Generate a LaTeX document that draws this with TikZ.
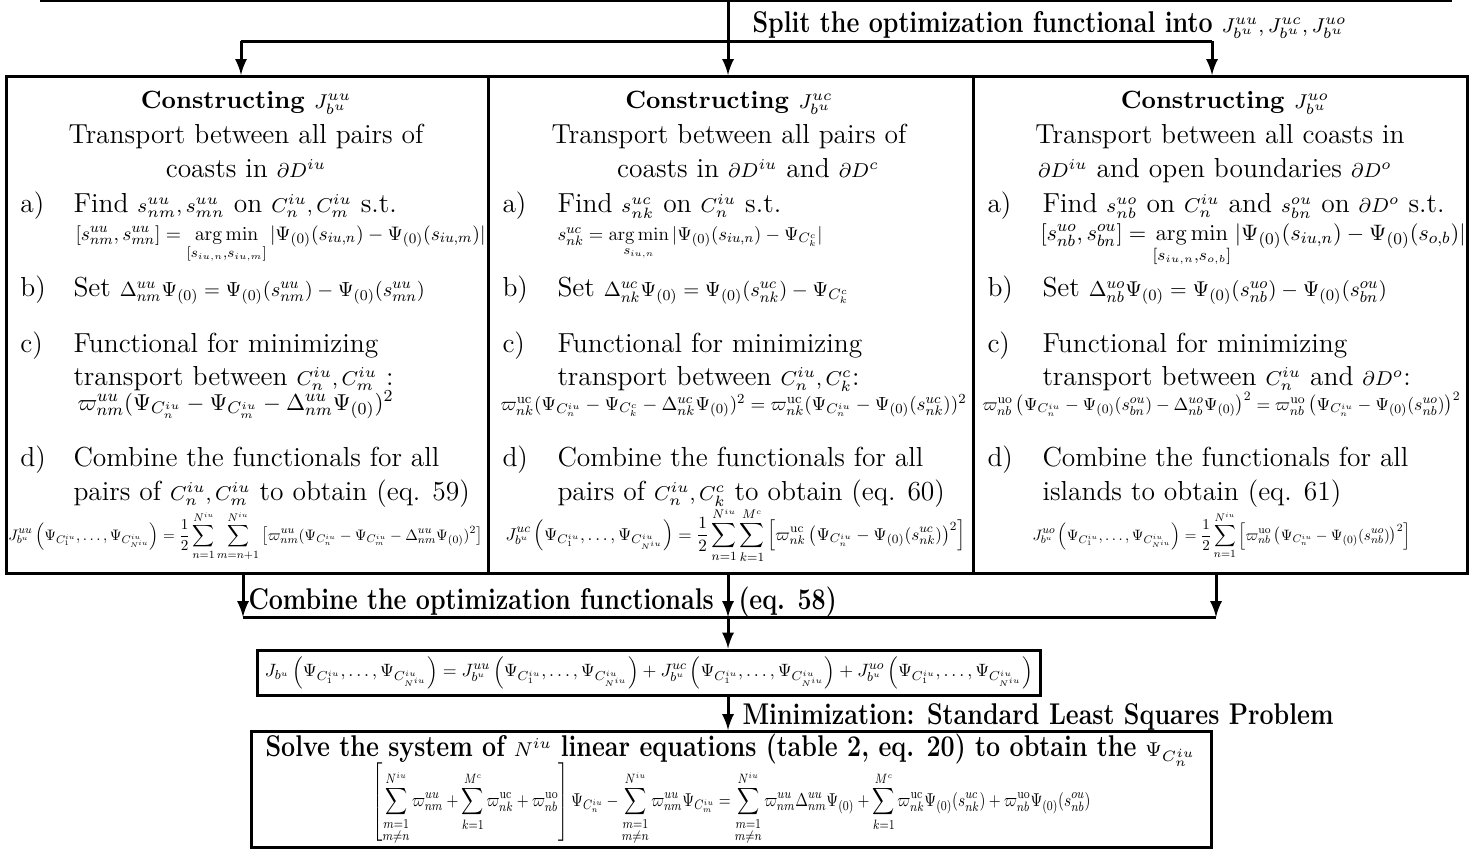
\documentclass[tikz,border=0pt]{standalone}
\usepackage{amsmath,amssymb}
\usepackage{graphicx}
\usepackage{tikz}
\usetikzlibrary{arrows, positioning, calc}

\newlength{\pxu}\setlength{\pxu}{0.4pt}
\newcommand{\fitw}[2]{\resizebox{#1\pxu}{!}{#2}}
\newcommand{\cond}[1]{\scalebox{0.835}[1]{\fontsize{12}{14}\selectfont\bfseries #1}}
\newcommand{\sm}[1]{{\fontsize{8.5}{10}\selectfont$#1$}}
\newcommand{\Pz}{\Psi_{(0)}}
\newcommand{\PC}[1]{\Psi_{C^{iu}_{#1}}}
\newcommand{\Jargs}{\left(\PC{1},\dots,\PC{N^{iu}}\right)}
\newcommand{\amin}{\mathop{\mathrm{arg\,min}}\limits}

\begin{document}
\begin{tikzpicture}[x=0.4pt, y=-0.4pt, >=latex, font=\fontsize{11}{13.6}\selectfont]
    % Styles
    \tikzstyle{panel} = [draw, line width=1.2pt, inner sep=0pt, anchor=north west]
    \tikzstyle{txt} = [anchor=base west, inner sep=0pt]
    \tikzstyle{mid} = [anchor=base, inner sep=0pt]
    \tikzstyle{head} = [anchor=base, inner sep=0pt, font=\fontsize{10}{12}\selectfont\bfseries]
    \tikzstyle{tag} = [anchor=base west, inner sep=0pt]
    \tikzstyle{line} = [draw, -latex, line width=1.2pt]
    \tikzstyle{bar} = [draw, line width=1.2pt]

    \useasboundingbox (0,0) rectangle (1470,848);

    % Panels
    \node [panel, minimum width=192.8pt, minimum height=198.8pt] (uu) at (5,75) {};
    \node [panel, minimum width=194pt, minimum height=198.8pt] (uc) at (487,75) {};
    \node [panel, minimum width=197.6pt, minimum height=198.8pt] (uo) at (972,75) {};
    \node [panel, anchor=center, minimum width=312.8pt, minimum height=18pt] (sum) at (649,672.5)
        {\fitw{768}{$\displaystyle J_{b^u}\Jargs = J^{uu}_{b^u}\Jargs + J^{uc}_{b^u}\Jargs + J^{uo}_{b^u}\Jargs$}};
    \node [panel, minimum width=384pt, minimum height=46.4pt] (solve) at (250,730) {};

    % Left panel: J^uu
    \node [head] (uu-t1) at (246,108) {Constructing \sm{J^{uu}_{b^u}}};
    \node [mid] (uu-t2) at (246,143) {Transport between all pairs of};
    \node [mid] (uu-t3) at (246,177) {coasts in \sm{\partial D^{iu}}};
    \node [txt] (uu-a) at (20,212) {a)};
    \node [txt] (uu-a1) at (73,212) {Find \sm{s^{uu}_{nm}, s^{uu}_{mn}} on \sm{C^{iu}_n, C^{iu}_m} s.t.};
    \node [txt] (uu-a2) at (75,240) {\fitw{410}{$[s^{uu}_{nm},s^{uu}_{mn}] = \amin_{[s_{iu,n},s_{iu,m}]} |\Pz(s_{iu,n}) - \Pz(s_{iu,m})|$}};
    \node [txt] (uu-b) at (20,296) {b)};
    \node [txt] (uu-b1) at (73,296) {Set \fitw{305}{$\Delta^{uu}_{nm}\Pz = \Pz(s^{uu}_{nm}) - \Pz(s^{uu}_{mn})$}};
    \node [txt] (uu-c) at (20,352) {c)};
    \node [txt] (uu-c1) at (73,352) {Functional for minimizing};
    \node [txt] (uu-c2) at (73,385) {transport between \sm{C^{iu}_n, C^{iu}_m} :};
    \node [txt] (uu-c3) at (77,410) {\fitw{316}{$\varpi^{uu}_{nm}(\PC{n} - \PC{m} - \Delta^{uu}_{nm}\Pz)^2$}};
    \node [txt] (uu-d) at (20,466) {d)};
    \node [txt] (uu-d1) at (73,466) {Combine the functionals for all};
    \node [txt] (uu-d2) at (73,500) {pairs of \sm{C^{iu}_n, C^{iu}_m} to obtain (eq. 59)};
    \node [txt] (uu-d3) at (8,540) {\fitw{474}{$\displaystyle J^{uu}_{b^u}\Jargs = \frac{1}{2}\sum_{n=1}^{N^{iu}}\sum_{m=n+1}^{N^{iu}}\left[\varpi^{uu}_{nm}(\PC{n} - \PC{m} - \Delta^{uu}_{nm}\Pz)^2\right]$}};

    % Middle panel: J^uc
    \node [head] (uc-t1) at (729,108) {Constructing \sm{J^{uc}_{b^u}}};
    \node [mid] (uc-t2) at (729,143) {Transport between all pairs of};
    \node [mid] (uc-t3) at (748,177) {coasts in \sm{\partial D^{iu}} and \sm{\partial D^{c}}};
    \node [txt] (uc-a) at (502,212) {a)};
    \node [txt] (uc-a1) at (557,212) {Find \sm{s^{uc}_{nk}} on \sm{C^{iu}_n} s.t.};
    \node [txt] (uc-a2) at (557,240) {\fitw{265}{$s^{uc}_{nk} = \amin_{s_{iu,n}} |\Pz(s_{iu,n}) - \Psi_{C^{c}_{k}}|$}};
    \node [txt] (uc-b) at (502,296) {b)};
    \node [txt] (uc-b1) at (557,296) {Set \fitw{245}{$\Delta^{uc}_{nk}\Pz = \Pz(s^{uc}_{nk}) - \Psi_{C^{c}_{k}}$}};
    \node [txt] (uc-c) at (502,352) {c)};
    \node [txt] (uc-c1) at (557,352) {Functional for minimizing};
    \node [txt] (uc-c2) at (557,385) {transport between \sm{C^{iu}_n, C^{c}_k}:};
    \node [txt] (uc-c3) at (500,410) {\fitw{466}{$\varpi^{\mathrm{uc}}_{nk}(\PC{n} - \Psi_{C^{c}_{k}} - \Delta^{uc}_{nk}\Pz)^2 = \varpi^{\mathrm{uc}}_{nk}(\PC{n} - \Pz(s^{uc}_{nk}))^2$}};
    \node [txt] (uc-d) at (502,466) {d)};
    \node [txt] (uc-d1) at (557,466) {Combine the functionals for all};
    \node [txt] (uc-d2) at (557,500) {pairs of \sm{C^{iu}_n, C^{c}_k} to obtain (eq. 60)};
    \node [txt] (uc-d3) at (505,540) {\fitw{460}{$\displaystyle J^{uc}_{b^u}\Jargs = \frac{1}{2}\sum_{n=1}^{N^{iu}}\sum_{k=1}^{M^{c}}\left[\varpi^{\mathrm{uc}}_{nk}\left(\PC{n} - \Pz(s^{uc}_{nk})\right)^2\right]$}};

    % Right panel: J^uo
    \node [head] (uo-t1) at (1225,108) {Constructing \sm{J^{uo}_{b^u}}};
    \node [mid] (uo-t2) at (1220,143) {Transport between all coasts in};
    \node [mid] (uo-t3) at (1215,177) {\sm{\partial D^{iu}} and open boundaries \sm{\partial D^{o}}};
    \node [txt] (uo-a) at (987,212) {a)};
    \node [txt] (uo-a1) at (1042,212) {Find \sm{s^{uo}_{nb}} on \sm{C^{iu}_n} and \sm{s^{ou}_{bn}} on \sm{\partial D^{o}} s.t.};
    \node [txt] (uo-a2) at (1040,240) {\fitw{425}{$[s^{uo}_{nb},s^{ou}_{bn}] = \amin_{[s_{iu,n},s_{o,b}]} |\Pz(s_{iu,n}) - \Pz(s_{o,b})|$}};
    \node [txt] (uo-b) at (987,296) {b)};
    \node [txt] (uo-b1) at (1042,296) {Set \fitw{298}{$\Delta^{uo}_{nb}\Pz = \Pz(s^{uo}_{nb}) - \Pz(s^{ou}_{bn})$}};
    \node [txt] (uo-c) at (987,352) {c)};
    \node [txt] (uo-c1) at (1042,352) {Functional for minimizing};
    \node [txt] (uo-c2) at (1042,385) {transport between \sm{C^{iu}_n} and \sm{\partial D^{o}}:};
    \node [txt] (uo-c3) at (982,410) {\fitw{478}{$\varpi^{\mathrm{uo}}_{nb}\left(\PC{n} - \Pz(s^{ou}_{bn}) - \Delta^{uo}_{nb}\Pz\right)^2 = \varpi^{\mathrm{uo}}_{nb}\left(\PC{n} - \Pz(s^{uo}_{nb})\right)^2$}};
    \node [txt] (uo-d) at (987,466) {d)};
    \node [txt] (uo-d1) at (1042,466) {Combine the functionals for all};
    \node [txt] (uo-d2) at (1042,500) {islands to obtain (eq. 61)};
    \node [txt] (uo-d3) at (1032,540) {\fitw{378}{$\displaystyle J^{uo}_{b^u}\Jargs = \frac{1}{2}\sum_{n=1}^{N^{iu}}\left[\varpi^{\mathrm{uo}}_{nb}\left(\PC{n} - \Pz(s^{uo}_{nb})\right)^2\right]$}};

    % Bottom panel
    \node [tag] (solve-t) at (265,756) {\cond{Solve the system of} \sm{N^{iu}} \cond{linear equations (table 2, eq. 20) to obtain the} \sm{\PC{n}}};
    \node [anchor=north west, inner sep=0pt] (solve-eq) at (372,762) {\resizebox*{718\pxu}{82\pxu}{$\displaystyle \left[\sum_{\substack{m=1\\m\neq n}}^{N^{iu}}\varpi^{uu}_{nm} + \sum_{k=1}^{M^{c}}\varpi^{\mathrm{uc}}_{nk} + \varpi^{\mathrm{uo}}_{nb}\right]\PC{n} - \sum_{\substack{m=1\\m\neq n}}^{N^{iu}}\varpi^{uu}_{nm}\PC{m} = \sum_{\substack{m=1\\m\neq n}}^{N^{iu}}\varpi^{uu}_{nm}\Delta^{uu}_{nm}\Pz + \sum_{k=1}^{M^{c}}\varpi^{\mathrm{uc}}_{nk}\Pz(s^{uc}_{nk}) + \varpi^{\mathrm{uo}}_{nb}\Pz(s^{ou}_{nb})$}};

    % Edges
    \coordinate (tl) at (40,1);
    \coordinate (tr) at (1452,1);
    \coordinate (split) at (728,1);
    \coordinate (forkl) at (241,41);
    \coordinate (forkr) at (1212,41);
    \coordinate (jl) at (243,617);
    \coordinate (jr) at (1216,617);
    \draw [bar, line width=1pt] (tl) -- (tr);
    \draw [line] (split) -- (uc.north -| split);
    \draw [bar] (forkl) -- (forkr);
    \draw [line] (forkl) -- (forkl |- uu.north);
    \draw [line] (forkr) -- (forkr |- uo.north);
    \node [tag] (split-lbl) at (752,32) {\cond{Split the optimization functional into} \sm{J^{uu}_{b^u}, J^{uc}_{b^u}, J^{uo}_{b^u}}};

    \draw [line] (uu.south -| jl) -- (jl);
    \draw [line] (uc.south -| split) -- (split |- jl);
    \draw [line] (uo.south -| jr) -- (jr);
    \draw [bar] (jl) -- (jr);
    \draw [line] (split |- jl) -- (sum.north -| split);
    \node [tag] (comb-lbl) at (248,609) {\cond{Combine the optimization functionals}};
    \node [tag] (eq-lbl) at (738,609) {\cond{(eq. 58)}};

    \draw [line] (sum.south -| split) -- (solve.north -| split);
    \node [tag] (min-lbl) at (742,724) {\cond{Minimization: Standard Least Squares Problem}};
\end{tikzpicture}
\end{document}
